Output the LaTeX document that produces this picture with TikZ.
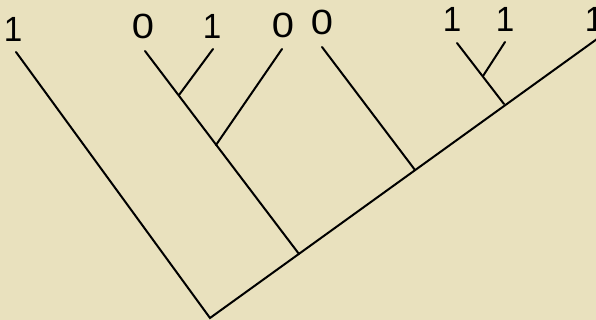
\documentclass[tikz,border=0pt]{standalone}
\usepackage{fontspec}
\setsansfont{Liberation Sans}
\usetikzlibrary{positioning}
\definecolor{paper}{HTML}{E9E1BE}
\begin{document}
\begin{tikzpicture}[x=1pt,y=-1pt,font=\sffamily\fontsize{35}{35}\selectfont,
  branch/.style={line width=2pt,draw=black,line cap=round},
  tip/.style={inner sep=0pt,xscale=.95},
  zero/.style={tip,xscale=1.2}]
  \fill[paper] (0,0) rectangle (596,320);
  \useasboundingbox (0,0) rectangle (596,320);
  % inner nodes
  \coordinate (root) at (210,318);
  \coordinate (sA) at (299,254);
  \coordinate (sB) at (415,170);
  \coordinate (sC) at (504,104);
  \coordinate (cA) at (216,145);
  \coordinate (cB) at (179,95);
  \coordinate (cC) at (483,76);
  % leaf ends
  \coordinate (e1) at (16,52);
  \coordinate (e2) at (145,51);
  \coordinate (e3) at (213,49);
  \coordinate (e4) at (282,49);
  \coordinate (e5) at (322,47);
  \coordinate (e6) at (457,43);
  \coordinate (e7) at (505,42);
  \coordinate (e8) at (597,39);
  % leaf labels
  \node[tip] (t1) at (13,29) {1};
  \node[zero] (t2) at (143,26) {0};
  \node[tip] (t3) at (212,26) {1};
  \node[zero] (t4) at (283,25) {0};
  \node[zero] (t5) at (322,22) {0};
  \node[tip] (t6) at (452,19) {1};
  \node[tip] (t7) at (505,19) {1};
  \node[tip] (t8) at (594,19) {1};
  % branches
  \draw[branch] (e1) -- (root) -- (e8);
  \draw[branch] (sA) -- (e2);
  \draw[branch] (cB) -- (e3);
  \draw[branch] (cA) -- (e4);
  \draw[branch] (sB) -- (e5);
  \draw[branch] (sC) -- (e6);
  \draw[branch] (cC) -- (e7);
\end{tikzpicture}
\end{document}
